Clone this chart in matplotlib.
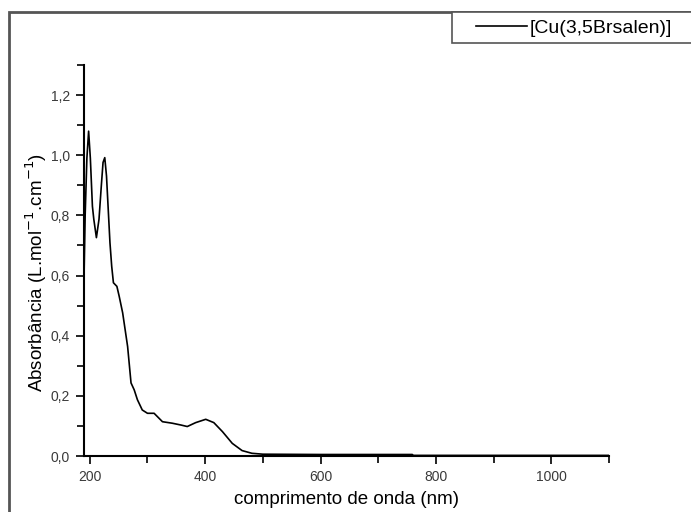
import matplotlib.pyplot as plt
from matplotlib.patches import Rectangle
from matplotlib.ticker import MultipleLocator, FuncFormatter

plt.rcParams['font.family'] = ['Liberation Sans', 'DejaVu Sans']

# UV-Vis spectrum of [Cu(3,5Brsalen)]
wavelength = [190, 192, 195, 198, 201, 204.6, 207, 211.5, 216, 220, 223, 226, 229,
              232, 235, 238, 241, 247, 251, 257, 265.6, 271.5, 277, 282.6, 291,
              300, 311.5, 326, 343, 358, 369, 383.6, 401, 415, 430, 447, 464,
              481, 500, 600, 700, 759, 761, 900, 1100]
absorbance = [0.59, 0.80, 0.99, 1.08, 0.99, 0.83, 0.787, 0.726, 0.787, 0.898, 0.976,
              0.992, 0.931, 0.82, 0.709, 0.631, 0.576, 0.564, 0.531, 0.476, 0.364,
              0.243, 0.22, 0.187, 0.153, 0.142, 0.142, 0.114, 0.109, 0.103, 0.098,
              0.111, 0.122, 0.111, 0.081, 0.042, 0.018, 0.009, 0.006, 0.005, 0.005,
              0.005, 0.002, 0.002, 0.002]

fig = plt.figure(figsize=(6.91, 5.12), dpi=100)
ax = fig.add_axes([84 / 691, 1 - 456 / 512, (609 - 84) / 691, (456 - 65) / 512])

line, = ax.plot(wavelength, absorbance, color='black', lw=1.2, label='[Cu(3,5Brsalen)]')

ax.set_xlim(190, 1100)
ax.set_ylim(0, 1.3)
ax.xaxis.set_major_locator(MultipleLocator(200))
ax.xaxis.set_minor_locator(MultipleLocator(100))
ax.yaxis.set_major_locator(MultipleLocator(0.2))
ax.yaxis.set_minor_locator(MultipleLocator(0.1))
ax.yaxis.set_major_formatter(FuncFormatter(lambda v, p: f'{v:.1f}'.replace('.', ',')))

for side in ('top', 'right'):
    ax.spines[side].set_visible(False)
for side in ('left', 'bottom'):
    ax.spines[side].set_linewidth(1.5)
ax.tick_params(which='major', direction='out', length=6, width=1.2,
               labelsize=10, labelcolor='#3a3a3a', pad=4)
ax.tick_params(which='minor', direction='out', length=5, width=1.2)

fig.text(346 / 691, 1 - 500 / 512, 'comprimento de onda (nm)', fontsize=13.5,
         ha='center', va='center')
fig.text(36 / 691, 1 - 272 / 512, 'Absorbância (L.mol$^{-1}$.cm$^{-1}$)', fontsize=13.5,
         ha='center', va='center', rotation=90)

# page frame and legend box
fig.patches.append(Rectangle((9 / 691, -0.1), 1.2, 1 - 12 / 512 + 0.1,
                             transform=fig.transFigure, fill=False,
                             edgecolor='#555555', lw=2))
fig.patches.append(Rectangle((452 / 691, 1 - 43 / 512), 0.5, 31 / 512,
                             transform=fig.transFigure, facecolor='white',
                             edgecolor='#555555', lw=1.2))
fig.legend(handles=[line], loc='center left', bbox_to_anchor=(476 / 691, 1 - 28 / 512),
           frameon=False, fontsize=14, handlelength=2.6, handletextpad=0.15,
           borderpad=0, borderaxespad=0)

fig.savefig('out.png', dpi=100)
